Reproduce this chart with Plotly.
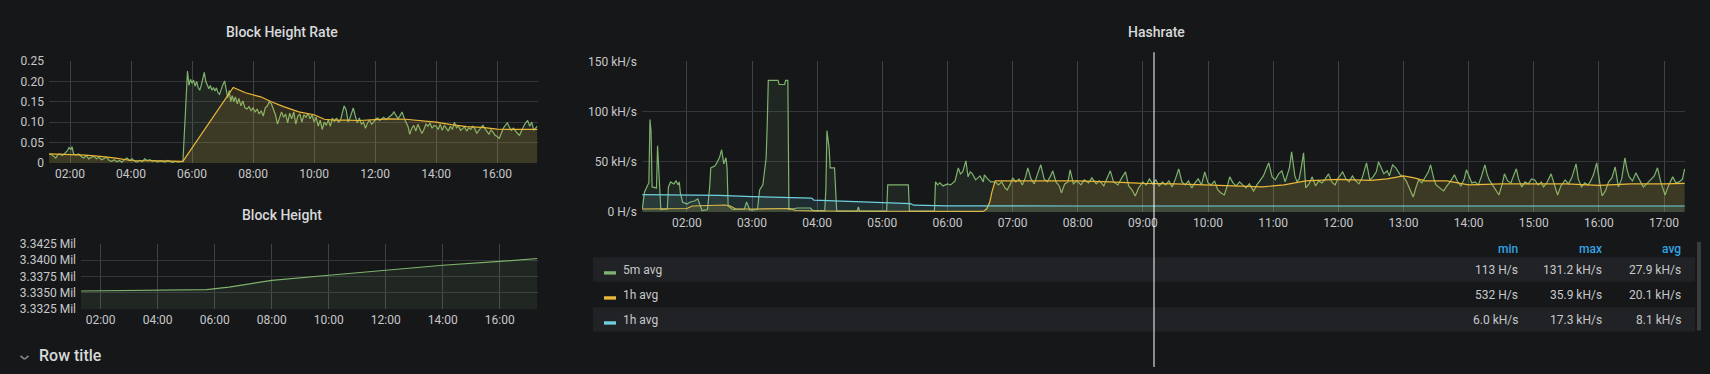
import plotly.graph_objects as go

W, H = 1710, 374
DAY = "2021-06-01 "
X_RANGE = [DAY + "01:18:40", DAY + "17:19:20"]

# ---------------- Block Height Rate ----------------
rate_5m_t = ["01:19","01:24","01:28","01:32","01:36","01:40","01:45","01:50","01:55","01:58",
             "02:02","02:04","02:07","02:12","02:17","02:22","02:27","02:32","02:37","02:42",
             "02:47","02:52","02:57","03:02","03:07","03:12","03:17","03:22","03:27","03:32",
             "03:37","03:42","03:47","03:52","03:57","04:02","04:07","04:12","04:17","04:22",
             "04:27","04:32","04:37","04:42","04:47","04:52","04:57","05:02","05:07","05:12",
             "05:17","05:22","05:27","05:32","05:37","05:42","05:48","05:51","05:54","05:57",
             "06:00","06:03","06:06","06:09","06:12","06:15","06:18","06:21","06:24","06:27",
             "06:30","06:33","06:36","06:39","06:42","06:45","06:48","06:51","06:54","06:57",
             "07:00","07:04","07:07","07:10","07:13","07:16","07:19","07:22","07:25","07:29",
             "07:32","07:36","07:40","07:44","07:48","07:52","07:56","08:00","08:04","08:08",
             "08:12","08:16","08:20","08:24","08:28","08:32","08:36","08:40","08:44","08:48",
             "08:52","08:56","09:00","09:04","09:08","09:12","09:16","09:20","09:24","09:28",
             "09:32","09:36","09:40","09:44","09:48","09:52","09:56","10:00","10:04","10:08",
             "10:12","10:16","10:20","10:24","10:28","10:32","10:36","10:40","10:44","10:48",
             "10:52","10:56","10:59","11:03","11:07","11:11","11:14","11:17","11:21","11:25",
             "11:29","11:33","11:37","11:41","11:45","11:49","11:53","11:57","12:01","12:05",
             "12:09","12:13","12:17","12:21","12:25","12:29","12:33","12:37","12:41","12:45",
             "12:49","12:53","12:57","13:01","13:05","13:08","13:12","13:16","13:20","13:24",
             "13:28","13:32","13:36","13:40","13:44","13:48","13:52","13:56","14:00","14:04",
             "14:08","14:12","14:16","14:20","14:24","14:28","14:32","14:36","14:40","14:44",
             "14:48","14:52","14:56","15:00","15:04","15:08","15:12","15:16","15:20","15:24",
             "15:28","15:32","15:36","15:40","15:44","15:48","15:52","15:56","16:00","16:04",
             "16:08","16:12","16:16","16:20","16:24","16:28","16:32","16:36","16:40","16:44",
             "16:48","16:52","16:56","17:00","17:04","17:08","17:12","17:16","17:19"]
rate_5m_v = [0.022,0.020,0.016,0.012,0.020,0.022,0.018,0.024,0.030,0.038,
             0.033,0.040,0.022,0.020,0.022,0.016,0.012,0.018,0.010,0.014,
             0.016,0.010,0.014,0.008,0.012,0.014,0.006,0.004,0.008,0.003,
             0.006,0.002,0.008,0.012,0.006,0.010,0.004,0.002,0.006,0.003,
             0.010,0.006,0.008,0.004,0.006,0.002,0.005,0.004,0.002,0.006,
             0.003,0.001,0.004,0.002,0.003,0.003,0.150,0.225,0.190,0.205,
             0.195,0.203,0.188,0.200,0.185,0.178,0.190,0.205,0.222,0.200,
             0.188,0.182,0.190,0.178,0.185,0.176,0.184,0.172,0.168,0.180,
             0.190,0.201,0.175,0.160,0.178,0.150,0.165,0.150,0.162,0.145,
             0.158,0.140,0.152,0.135,0.132,0.138,0.128,0.135,0.125,0.132,
             0.120,0.128,0.115,0.135,0.140,0.150,0.145,0.130,0.118,0.095,
             0.110,0.125,0.112,0.120,0.098,0.122,0.108,0.125,0.095,0.115,
             0.120,0.100,0.118,0.112,0.122,0.108,0.118,0.100,0.112,0.090,
             0.105,0.082,0.100,0.092,0.105,0.090,0.110,0.102,0.110,0.100,
             0.105,0.125,0.140,0.130,0.100,0.112,0.125,0.135,0.115,0.098,
             0.110,0.095,0.100,0.085,0.098,0.105,0.095,0.100,0.108,0.110,
             0.104,0.108,0.112,0.106,0.110,0.114,0.118,0.125,0.115,0.108,
             0.116,0.125,0.110,0.100,0.088,0.070,0.085,0.092,0.078,0.095,
             0.085,0.072,0.082,0.095,0.090,0.098,0.085,0.092,0.090,0.082,
             0.095,0.080,0.092,0.085,0.078,0.090,0.082,0.100,0.086,0.090,
             0.080,0.084,0.088,0.078,0.086,0.082,0.090,0.084,0.072,0.080,
             0.086,0.092,0.084,0.078,0.070,0.082,0.074,0.068,0.065,0.060,
             0.072,0.085,0.092,0.098,0.088,0.080,0.085,0.078,0.072,0.068,
             0.080,0.090,0.098,0.104,0.090,0.100,0.080,0.085,0.090]

rate_1h_t = ["01:19","02:00","02:30","03:00","03:30","04:00","04:30","05:00","05:42","07:21",
             "07:45","08:15","08:36","09:00","09:30","10:00","10:20","10:40","11:00","11:30",
             "12:00","12:30","13:00","13:30","14:00","14:30","15:00","15:30","16:00","16:30",
             "17:00","17:19"]
rate_1h_v = [0.022,0.021,0.019,0.016,0.012,0.006,0.006,0.005,0.004,0.185,
             0.172,0.162,0.150,0.138,0.125,0.118,0.107,0.105,0.105,0.104,
             0.106,0.108,0.107,0.103,0.100,0.094,0.089,0.087,0.083,0.082,
             0.083,0.082]

rate_ticks = [0, 0.05, 0.10, 0.15, 0.20, 0.25]
rate_tick_text = ["0", "0.05", "0.10", "0.15", "0.20", "0.25"]

# ---------------- Block Height ----------------
height_t = ["01:19","03:00","05:43","06:30","07:00","08:00","10:00","12:00","14:00","16:00","17:19"]
height_v = [3335290,3335370,3335490,3335880,3336250,3336910,3337690,3338490,3339220,3339800,3340250]
height_ticks = [3332500, 3335000, 3337500, 3340000, 3342500]
height_tick_text = ["3.3325 Mil", "3.3350 Mil", "3.3375 Mil", "3.3400 Mil", "3.3425 Mil"]

# ---------------- Hashrate (kH/s) ----------------
hash_5m_t = ["01:19","01:21","01:24","01:25","01:26","01:27","01:28","01:32","01:33","01:35",
             "01:36","01:42","01:43","01:45","01:48","01:50","01:52","01:53","01:54","01:56",
             "02:00","02:03","02:07","02:10","02:12","02:14","02:19","02:21","02:22","02:26",
             "02:30","02:32","02:34","02:36","02:37","02:38","02:42","02:53","02:55","02:58",
             "03:05","03:07","03:10","03:13","03:14","03:15","03:24","03:25","03:30","03:31",
             "03:33","03:34","03:42","03:54","03:56","04:07","04:08","04:09","04:11","04:12",
             "04:16","04:18","04:37","04:38","04:39","05:04","05:05","05:24","05:25","05:48",
             "05:49","05:51","05:53","05:56","06:00","06:03","06:07","06:10","06:12","06:14",
             "06:17","06:19","06:21","06:23","06:26","06:30","06:33","06:34","06:37","06:40",
             "06:44","06:47","06:50","06:53","06:55","06:58",
             "07:00","07:03","07:06","07:09","07:12","07:14","07:17","07:20","07:23","07:26",
             "07:29","07:32","07:35","07:37","07:40","07:43","07:45","07:48","07:51","07:53",
             "07:56","07:59","08:03","08:06","08:10","08:13","08:17","08:20","08:24","08:27",
             "08:30","08:33","08:37","08:40","08:44","08:47","08:50","08:53","08:56","09:00",
             "09:03","09:06","09:09","09:12","09:15","09:18","09:21","09:24","09:27","09:30",
             "09:33","09:36","09:39","09:42","09:45","09:48","09:51","09:54","09:57","10:00",
             "10:03","10:06","10:09","10:12","10:15","10:18","10:20","10:23","10:26","10:29",
             "10:32","10:35","10:38","10:42","10:45","10:48","10:51","10:54","10:56","10:59",
             "11:02","11:05","11:08","11:11","11:13","11:15","11:17","11:20","11:22","11:24",
             "11:26","11:28","11:30","11:33","11:36","11:39","11:42","11:45","11:48","11:51",
             "11:54","11:57","12:00","12:04","12:07","12:10","12:13","12:16","12:19","12:22",
             "12:26","12:29","12:32","12:35","12:37","12:40","12:42","12:45","12:47","12:50",
             "12:53","12:57","13:00","13:03","13:06","13:09","13:12","13:14","13:17","13:20",
             "13:23","13:25","13:28","13:30","13:33","13:37","13:40","13:43","13:47","13:50",
             "13:53","13:56","13:58","14:01","14:03","14:06","14:09","14:12","14:15","14:17",
             "14:19","14:22","14:25","14:28","14:31","14:33","14:36","14:39","14:41","14:44",
             "14:46","14:49","14:52","14:55","14:58","15:01","15:04","15:07","15:09","15:12",
             "15:16","15:19","15:22","15:25","15:29","15:32","15:35","15:39","15:41","15:44",
             "15:47","15:50","15:52","15:55","15:58","16:01","16:03","16:06","16:09","16:12",
             "16:15","16:18","16:21","16:24","16:26","16:28","16:31","16:34","16:37","16:41",
             "16:44","16:48","16:51","16:54","16:57","17:01","17:04","17:08","17:11","17:14",
             "17:17","17:19"]
hash_5m_v = [3,20,27,29,92,80,25,24,66,13,
             2.5,3,25,30,28,31,27,30,19,10,
             8,10,11,13,6,1.5,2.5,25,44,46,
             54,62,48,54,44,6,2.5,3,10,2,
             2.5,22,27,54,87,131,131,127,127,131,
             131,2.5,4,4,1.5,1.5,22,81,64,44,
             44,1,1,5,1,1,27,27,1,1,
             30,27,29,26,28,27,31,44,38,40,
             51,35,40,38,32,36,30,37,33,30,
             30,27,30,24,22,28,
             34,30,33,27,35,44,33,28,38,47,
             33,30,36,41,30,26,19,28,30,42,
             28,31,27,32,29,34,28,31,26,33,
             41,30,27,33,40,26,22,16,24,30,
             27,33,28,32,26,30,27,31,25,33,
             43,30,27,31,24,29,33,27,40,29,
             27,31,22,19,17,27,35,29,26,30,
             27,24,28,21,27,31,36,44,49,35,
             32,38,41,30,36,44,60,36,30,33,
             45,59,24,28,35,26,31,29,33,38,
             30,27,34,40,33,30,36,31,28,34,
             49,32,35,40,50,42,38,41,36,47,
             44,37,35,30,22,15,26,32,29,35,
             40,47,33,27,24,21,26,30,37,30,
             26,33,42,34,29,30,27,36,47,38,
             32,27,22,17,28,38,31,29,35,43,
             33,25,30,28,33,32,27,30,25,29,
             38,27,17,26,32,28,34,48,33,25,
             29,27,30,37,49,28,16,21,30,34,
             45,25,33,54,42,35,31,39,33,25,
             28,32,36,44,30,17,26,35,29,30,
             33,43]

hash_1h_t = ["01:19","01:40","02:00","02:05","02:20","02:35","02:40","02:45","03:00","03:20",
             "03:35","03:40","04:00","05:00","06:00","06:33","06:36","06:39","06:41","06:44",
             "07:00","07:30","08:00","08:30","09:00","09:30","10:00","10:30","10:50","11:10",
             "11:30","12:00","12:30","12:45","13:00","13:10","13:20","13:40","14:00","14:30",
             "15:00","15:30","16:00","16:30","17:00","17:19"]
hash_1h_v = [3,3,3.5,6,6.5,7,6,3,3,3,
             3.5,1.5,1,0.8,0.6,0.6,3,10,20,31,
             31,31,31,30,28.5,28,27,25.5,25,27,
             31,32.5,31.5,33,36,34,31,31,27,28,
             28,28,26.5,28,28,28.5]

hash_1h_b_t = ["01:19","02:00","02:30","03:00","03:30","03:55","03:57","04:30","05:00","05:26",
               "05:29","05:45","06:00","08:00","10:00","12:00","14:00","16:00","17:19"]
hash_1h_b_v = [17.3,17.0,16.5,15.3,14.3,13.8,11.8,10.5,9.5,8.3,
               6.8,6.2,6.1,6.0,6.0,6.0,6.0,6.0,6.0]

hash_ticks = [0, 50, 100, 150]
hash_tick_text = ["0 H/s", "50 kH/s", "100 kH/s", "150 kH/s"]

# legend table
legend_names = ["5m avg", "1h avg", "1h avg"]
legend_min = ["113 H/s", "532 H/s", "6.0 kH/s"]
legend_max = ["131.2 kH/s", "35.9 kH/s", "17.3 kH/s"]
legend_avg = ["27.9 kH/s", "20.1 kH/s", "8.1 kH/s"]

GREEN, YELLOW, CYAN = "#7eb26d", "#eab839", "#6ed0e0"
FILLS = {GREEN: "rgba(126,178,109,0.10)", YELLOW: "rgba(234,184,57,0.14)", CYAN: "rgba(110,208,224,0.12)"}
BG = "#161719"
GRID_H = "#35363a"
GRID_V = "#414246"
TXT = "#c7c8ca"
FONT = "Roboto"


def px(x):
    return x / W


def py(y):
    return 1 - y / H


def ts(lst):
    return [DAY + t for t in lst]


fig = go.Figure()


def add_line(t, v, color, ax):
    fig.add_trace(go.Scatter(
        x=ts(t), y=v, mode="lines", line=dict(color=color, width=1.2),
        fill="tozeroy", fillcolor=FILLS[color],
        xaxis="x" + ax, yaxis="y" + ax, hoverinfo="skip", showlegend=False))


add_line(rate_5m_t, rate_5m_v, GREEN, "")
add_line(rate_1h_t, rate_1h_v, YELLOW, "")
add_line(height_t, height_v, GREEN, "2")
add_line(hash_5m_t, hash_5m_v, GREEN, "3")
add_line(hash_1h_t, hash_1h_v, YELLOW, "3")
add_line(hash_1h_b_t, hash_1h_b_v, CYAN, "3")

xcommon = dict(type="date", range=X_RANGE, tickformat="%H:%M", tick0=DAY + "00:00",
               showgrid=True, gridcolor=GRID_V, gridwidth=1, zeroline=False, showline=False,
               ticks="", tickfont=dict(family=FONT, size=12, color=TXT), ticklabelstandoff=2)
ycommon = dict(showgrid=True, gridcolor=GRID_H, gridwidth=1, zeroline=False, showline=False,
               ticks="", tickfont=dict(family=FONT, size=12, color=TXT), ticklabelstandoff=4)

fig.update_layout(
    width=W, height=H, margin=dict(l=0, r=0, t=0, b=0),
    paper_bgcolor=BG, plot_bgcolor=BG, showlegend=False,
    xaxis=dict(xcommon, domain=[px(49), px(537.5)], anchor="y", dtick=7200000),
    yaxis=dict(ycommon, domain=[py(162), py(56)], anchor="x", range=[0, 0.25],
               tickvals=rate_ticks, ticktext=rate_tick_text),
    xaxis2=dict(xcommon, domain=[px(81), px(537.5)], anchor="y2", dtick=7200000),
    yaxis2=dict(ycommon, domain=[py(314), py(246)], anchor="x2", range=[3332500, 3342500],
                tickvals=height_ticks, ticktext=height_tick_text),
    xaxis3=dict(xcommon, domain=[px(642), px(1685)], anchor="y3", dtick=3600000),
    yaxis3=dict(ycommon, domain=[py(213), py(56.5)], anchor="x3", range=[0, 150],
                tickvals=hash_ticks, ticktext=hash_tick_text),
)

ann = []
shapes = []


def text(x, y, s, size=12, color=TXT, xanchor="left", weight=None):
    f = dict(family=FONT, size=size, color=color)
    if weight:
        f["weight"] = weight
    ann.append(dict(x=px(x), y=py(y), xref="paper", yref="paper", text=s, showarrow=False,
                    xanchor=xanchor, yanchor="middle", font=f))


# titles
text(282, 26, "Block Height Rate", 14, "#d8d9da", "center", 500)
text(282, 216, "Block Height", 14, "#d8d9da", "center", 500)
text(1156, 26, "Hashrate", 14, "#d8d9da", "center", 500)
text(37, 362, "Row title", 16, "#d8d9da", "left", 500)

# chevron
shapes.append(dict(type="line", xref="paper", yref="paper", x0=px(20.5), y0=py(362.5),
                   x1=px(24.5), y1=py(366), line=dict(color="#8e8f92", width=1.5)))
shapes.append(dict(type="line", xref="paper", yref="paper", x0=px(24.5), y0=py(366),
                   x1=px(28.5), y1=py(362.5), line=dict(color="#8e8f92", width=1.5)))

# legend table
HEAD = "#33a2e5"
COL_MIN, COL_MAX, COL_AVG = 1520, 1604, 1683
text(COL_MIN, 251, "min", 12, HEAD, "right", 500)
text(COL_MAX, 251, "max", 12, HEAD, "right", 500)
text(COL_AVG, 251, "avg", 12, HEAD, "right", 500)
row_tops = [260, 286, 312]
colors = [GREEN, YELLOW, CYAN]
for i in range(3):
    top = row_tops[i]
    if i != 1:
        shapes.append(dict(type="rect", xref="paper", yref="paper", x0=px(593), x1=px(1695),
                           y0=py(top), y1=py(top + 25.5), fillcolor="#212225", line=dict(width=0),
                           layer="below"))
    cy = top + 13.5
    shapes.append(dict(type="rect", xref="paper", yref="paper", x0=px(604), x1=px(616),
                       y0=py(cy + 1), y1=py(cy + 4.5), fillcolor=colors[i], line=dict(width=0)))
    text(621, cy, legend_names[i])
    text(COL_MIN, cy, legend_min[i], xanchor="right")
    text(COL_MAX, cy, legend_max[i], xanchor="right")
    text(COL_AVG, cy, legend_avg[i], xanchor="right")

# scrollbar
shapes.append(dict(type="rect", xref="paper", yref="paper", x0=px(1697), x1=px(1701),
                   y0=py(244), y1=py(336), fillcolor="#3b3c40", line=dict(width=0)))

# crosshair
shapes.append(dict(type="line", xref="paper", yref="paper", x0=px(1154), x1=px(1154),
                   y0=py(47), y1=0, line=dict(color="#ffffff", width=1), layer="above"))

fig.update_layout(annotations=ann, shapes=shapes)
fig.write_html("out.html")
